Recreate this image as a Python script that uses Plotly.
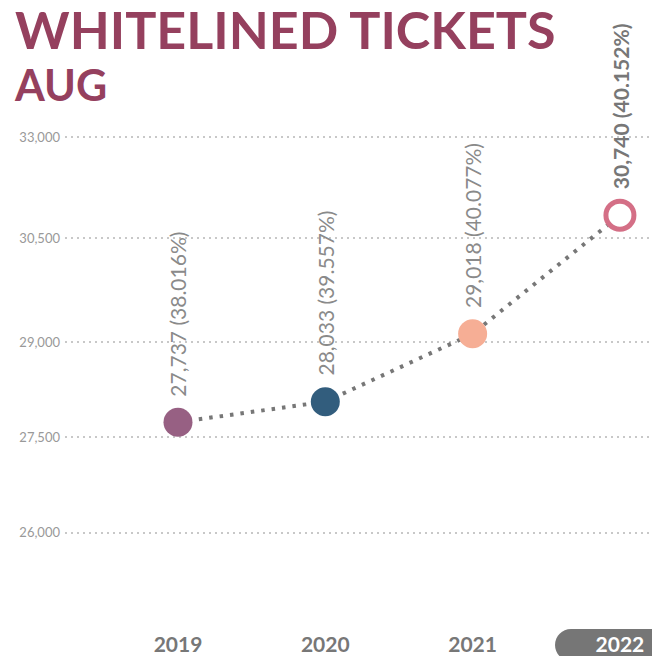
import plotly.graph_objects as go

# ---- data ----
years = ["2019", "2020", "2021", "2022"]
tickets = [27737, 28033, 29018, 30740]
shares = [38.016, 39.557, 40.077, 40.152]
y_tick_labels = ["33,000", "30,500", "29,000", "27,500", "26,000"]
title_main = "WHITELINED TICKETS"
title_sub = "AUG"

# ---- layout constants (pixel geometry, figure coordinates) ----
OFF = 8  # page body margin
W, H = 660 - OFF, 656 - OFF
L, R, T, B = 57, 0, 102, 41
plot_w = W - L - R
plot_h = H - T - B
# positions of the (stylised) gridlines on the value scale
y_tick_pos = [31875, 30409, 28900, 27522, 26129]
y_range = [24938, 32267]
x_range = [-0.767, 3.272]

point_colors = ["#976083", "#325D7D", "#F6AE95", "#FFFFFF"]
edge_colors = ["#976083", "#325D7D", "#F6AE95", "#D46F86"]
edge_widths = [0, 0, 0, 5]
sizes = [29, 29, 29, 28]

fig = go.Figure()
xi = list(range(len(years)))
fig.add_trace(go.Scatter(
    x=xi, y=tickets, mode="lines+markers",
    line=dict(color="#777777", width=4, dash="3.5px,7px"),
    marker=dict(size=sizes, color=point_colors,
                line=dict(color=edge_colors, width=edge_widths), opacity=1),
    hoverinfo="skip", showlegend=False, cliponaxis=False,
))

# data labels (rotated)
for i, (v, s) in enumerate(zip(tickets, shares)):
    last = i == len(years) - 1
    txt = f"{v:,} ({s:.3f}%)"
    fig.add_annotation(
        x=i, y=v, xref="x", yref="y", text=f"<b>{txt}</b>" if last else txt,
        textangle=-90, showarrow=False, xanchor="center", yanchor="bottom",
        yshift=24,
        font=dict(family="Lato", size=21, color="#777777" if last else "#8A8A8A",
                  weight=700 if last else 400),
    )

# title block (one text, two lines)
fig.add_annotation(
    x=0, y=1, xref="paper", yref="paper", xanchor="left", yanchor="top", align="left",
    xshift=4 - L, yshift=T + 12,
    text=(f"<span style='font-size:52px'><b>{title_main}</b></span><br>"
          f"<span style='font-size:43px'><b>{title_sub}</b></span>"),
    showarrow=False, font=dict(family="Lato", size=40, color="#95405E", weight=900),
)

# pill behind the selected year
def px2x(px):
    return (px - OFF - L) / plot_w

def py2y(py):
    return (H - B - (py - OFF)) / plot_h

x0, x1 = 555, 690
y0, y1 = 629, 661
r = (y1 - y0) / 2
k = 0.5523 * r
path = (f"M {px2x(x0 + r)},{py2y(y0)} L {px2x(x1)},{py2y(y0)} L {px2x(x1)},{py2y(y1)} "
        f"L {px2x(x0 + r)},{py2y(y1)} "
        f"C {px2x(x0 + r - k)},{py2y(y1)} {px2x(x0)},{py2y(y1 - r + k)} {px2x(x0)},{py2y(y1 - r)} "
        f"C {px2x(x0)},{py2y(y0 + r - k)} {px2x(x0 + r - k)},{py2y(y0)} {px2x(x0 + r)},{py2y(y0)} Z")
fig.add_shape(type="path", path=path, xref="paper", yref="paper",
              fillcolor="#767676", line=dict(width=0), layer="below")

tick_text = [f"<b>{y}</b>" for y in years[:-1]] + [f"<b><span style='color:white'>{years[-1]}</span></b>"]

fig.update_layout(
    width=W, height=H, margin=dict(l=L, r=R, t=T, b=B, autoexpand=False),
    paper_bgcolor="white", plot_bgcolor="white",
    xaxis=dict(range=x_range, tickvals=xi, ticktext=tick_text, showgrid=False,
               zeroline=False, showline=False, ticks="", ticklabelstandoff=15,
               tickfont=dict(family="Lato", size=21, color="#777777")),
    yaxis=dict(range=y_range, tickvals=y_tick_pos, ticktext=y_tick_labels,
               showgrid=True, gridcolor="#C8C8C8", gridwidth=1.5, griddash="2px,4px",
               zeroline=False, showline=False, ticks="", ticklabelstandoff=4,
               tickfont=dict(family="Lato", size=13, color="#999999")),
)

fig.write_html("out.html")
